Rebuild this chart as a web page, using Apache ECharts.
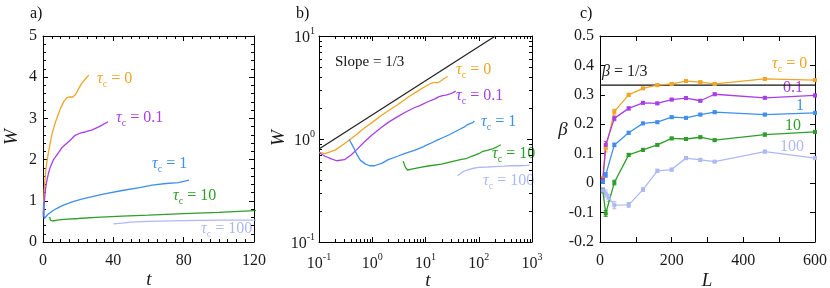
<!DOCTYPE html>
<html>
<head>
<meta charset="utf-8">
<script src="https://cdn.jsdelivr.net/npm/echarts@6/dist/echarts.min.js"></script>
<style>html,body{margin:0;padding:0;background:#fff}#c{width:830px;height:288px}</style>
</head>
<body>
<div id="c"></div>
<script>
// ---------- Data: W(t) curves for each tau_c (panels a and b) ----------
const tTau0 = [0.1, 0.13, 0.2, 0.3, 0.5, 0.7, 1, 1.5, 2, 3, 5, 7, 10, 12, 13.5, 15, 17, 18.5, 20, 22, 24, 26];
const wTau0 = [0.74, 0.72, 0.78, 0.9, 1.1, 1.27, 1.45, 1.7, 1.88, 2.15, 2.6, 2.9, 3.25, 3.42, 3.5, 3.52, 3.52, 3.58, 3.7, 3.85, 3.95, 4.05];

const tTau01 = [0.1, 0.13, 0.17, 0.215, 0.3, 0.4, 0.5, 0.7, 1, 1.5, 2, 3, 4, 6, 8, 11, 15, 18, 21, 24, 28, 32, 37];
const wTau01 = [0.74, 0.68, 0.64, 0.615, 0.63, 0.7, 0.78, 0.93, 1.1, 1.3, 1.45, 1.65, 1.8, 2.0, 2.12, 2.3, 2.45, 2.58, 2.64, 2.67, 2.72, 2.8, 2.92];

const tTau1 = [0.37, 0.45, 0.52, 0.6, 0.75, 0.9, 1.1, 1.5, 2, 3, 4, 6, 9, 12, 17, 22, 28, 35, 45, 55, 62, 70, 77, 83];
const wTau1 = [0.99, 0.82, 0.7, 0.62, 0.57, 0.55, 0.55, 0.58, 0.63, 0.68, 0.72, 0.77, 0.84, 0.9, 0.98, 1.04, 1.1, 1.17, 1.25, 1.32, 1.38, 1.42, 1.44, 1.5];

const tTau10 = [3.8, 4.2, 4.6, 5.5, 8, 12, 20, 30, 45, 60, 80, 100, 120, 150, 180, 220, 260];
const wTau10 = [0.61, 0.53, 0.5, 0.51, 0.53, 0.55, 0.57, 0.6, 0.63, 0.65, 0.69, 0.72, 0.76, 0.78, 0.8, 0.84, 0.88];

const tTau100 = [40, 45, 50, 60, 80, 100, 150, 200, 300, 400, 600, 800, 900];
const wTau100 = [0.44, 0.46, 0.48, 0.5, 0.52, 0.53, 0.535, 0.54, 0.545, 0.55, 0.55, 0.555, 0.56];

const slopeT = [0.1, 205];
const slopeW = [0.8, 10];

// ---------- Data: beta vs L (panel c) ----------
const Lvals = [8, 16, 24, 40, 80, 120, 160, 200, 240, 280, 320, 460, 600];
const beta0   = [0.016, 0.118, null, 0.243, 0.300, 0.322, 0.333, 0.337, 0.347, 0.343, 0.337, 0.354, 0.350];
const beta01  = [0.012, 0.130, null, 0.220, 0.254, 0.273, 0.271, 0.284, 0.289, 0.280, 0.302, 0.290, 0.298];
const beta1   = [0.005, 0.028, null, 0.130, 0.171, 0.203, 0.207, 0.224, 0.222, 0.233, 0.241, 0.233, 0.239];
const beta10  = [-0.026, -0.103, null, 0.002, 0.096, 0.113, 0.130, 0.152, 0.150, 0.156, 0.146, 0.165, 0.174];
const beta100 = [-0.025, -0.035, -0.050, -0.075, -0.074, -0.022, 0.042, 0.046, 0.085, 0.079, 0.073, 0.107, 0.085];
// error bar half-widths (estimated)
const err0   = [0.006, 0.012, null, 0.008, 0.005, 0.004, 0.004, 0.004, 0.004, 0.004, 0.004, 0.004, 0.004];
const err01  = [0.008, 0.012, null, 0.008, 0.005, 0.004, 0.004, 0.004, 0.004, 0.004, 0.004, 0.004, 0.004];
const err1   = [0.006, 0.008, null, 0.006, 0.005, 0.004, 0.004, 0.004, 0.004, 0.004, 0.004, 0.004, 0.004];
const err10  = [0.008, 0.010, null, 0.008, 0.005, 0.005, 0.004, 0.004, 0.004, 0.004, 0.004, 0.005, 0.005];
const err100 = [0.010, 0.012, 0.012, 0.012, 0.008, 0.006, 0.005, 0.005, 0.005, 0.005, 0.004, 0.005, 0.004];
const betaRef = 1/3;

// ---------- Axis ticks / labels ----------
const aXTicks = {min: 0, max: 120, interval: 40};
const aYTicks = {min: 0, max: 5, interval: 1};
const bXRange = {min: 0.1, max: 1000};
const bYRange = {min: 0.1, max: 10};
const cXTicks = {min: 0, max: 600, interval: 200};
const cYTicks = {min: -0.2, max: 0.5, interval: 0.1};

const colors = {c0: '#F0A526', c01: '#A83EE6', c1: '#3F8FEC', c10: '#2E9E2A', c100: '#AEB9F4'};
const serif = '"Liberation Serif", "Times New Roman", "DejaVu Serif", serif';

function zip(a, b) { return a.map((v, i) => [v, b[i]]); }

const chart = echarts.init(document.getElementById('c'), null, {renderer: 'canvas'});

const tickBase = {inside: true, length: 5, lineStyle: {color: '#000', width: 1}};
const lineBase = {show: true, onZero: false, lineStyle: {color: '#000', width: 1}};
const labelBase = {color: '#1a1a1a', fontFamily: serif, fontSize: 16};

function valAxis(gi, pos, rng, opts) {
  const mirror = (pos === 'top' || pos === 'right');
  return Object.assign({
    type: 'value', gridIndex: gi, position: pos,
    min: rng.min, max: rng.max, interval: rng.interval,
    axisLine: lineBase, axisTick: tickBase,
    splitLine: {show: false},
    axisLabel: Object.assign({show: !mirror}, labelBase)
  }, opts || {});
}
function logAxis(gi, pos, rng, opts) {
  const mirror = (pos === 'top' || pos === 'right');
  return Object.assign({
    type: 'log', logBase: 10, gridIndex: gi, position: pos,
    min: rng.min, max: rng.max,
    axisLine: lineBase, axisTick: tickBase,
    splitLine: {show: false},
    axisLabel: Object.assign({}, labelBase, {
      show: !mirror,
      margin: (pos === 'left') ? 4 : 10,
      formatter: v => '{b|10}{s|' + Math.round(Math.log10(v)) + '}',
      rich: {
        b: {fontFamily: serif, fontSize: 16, lineHeight: 20, verticalAlign: 'bottom', color: '#1a1a1a'},
        s: {fontFamily: serif, fontSize: 10, lineHeight: 10, verticalAlign: 'top', color: '#1a1a1a'}
      }
    })
  }, opts || {});
}

const minorA_X = {minorTick: {show: true, splitNumber: 8, length: 3, lineStyle: {color: '#000'}}};
const minorA_Y = {minorTick: {show: true, splitNumber: 5, length: 3, lineStyle: {color: '#000'}}};
const minorC_X = {minorTick: {show: true, splitNumber: 2, length: 5, lineStyle: {color: '#000'}}};

const cFmt = {axisLabel: Object.assign({}, labelBase, {formatter: v => { const r = Math.round(v * 10) / 10; return r === 0 ? '0' : r.toFixed(1); }, margin: 6})};

// log minor tick values (2..9 x 10^k)
const minorLogX = [];
for (let k = -1; k <= 2; k++) for (let m = 2; m <= 9; m++) minorLogX.push(m * Math.pow(10, k));
const minorLogY = [];
for (let k = -1; k <= 0; k++) for (let m = 2; m <= 9; m++) minorLogY.push(m * Math.pow(10, k));

function minorTickSeries(vals, isX) {
  return {
    type: 'custom', xAxisIndex: 2, yAxisIndex: 2, silent: true, clip: false, z: 5,
    data: vals.map(v => isX ? [v, 1] : [1, v]),
    renderItem: (params, api) => {
      const cs = params.coordSys;
      const p = api.coord([api.value(0), api.value(1)]);
      const st = {stroke: '#000', lineWidth: 1};
      if (isX) {
        const x = Math.round(p[0]) + 0.5;
        return {type: 'group', children: [
          {type: 'line', shape: {x1: x, y1: cs.y + cs.height, x2: x, y2: cs.y + cs.height - 3}, style: st},
          {type: 'line', shape: {x1: x, y1: cs.y, x2: x, y2: cs.y + 3}, style: st}
        ]};
      } else {
        const y = Math.round(p[1]) + 0.5;
        return {type: 'group', children: [
          {type: 'line', shape: {x1: cs.x, y1: y, x2: cs.x + 3, y2: y}, style: st},
          {type: 'line', shape: {x1: cs.x + cs.width, y1: y, x2: cs.x + cs.width - 3, y2: y}, style: st}
        ]};
      }
    }
  };
}

function curve(t, w, color, xi, yi) {
  return {type: 'line', xAxisIndex: xi, yAxisIndex: yi, data: zip(t, w), showSymbol: false,
    symbol: 'none', lineStyle: {color: color, width: 1.3}, itemStyle: {color: color}, clip: true, animation: false};
}
function betaLine(b, color) {
  return {type: 'line', xAxisIndex: 4, yAxisIndex: 4, data: zip(Lvals, b), connectNulls: true,
    symbol: 'rect', symbolSize: 4, showSymbol: true,
    lineStyle: {color: color, width: 1.3}, itemStyle: {color: color}, animation: false};
}
function errSeries(b, e, color) {
  const data = [];
  Lvals.forEach((L, i) => { if (b[i] !== null) data.push([L, b[i], e[i]]); });
  return {type: 'custom', xAxisIndex: 4, yAxisIndex: 4, silent: true, z: 3, data: data,
    renderItem: (params, api) => {
      const x = api.value(0), y = api.value(1), d = api.value(2);
      const lo = api.coord([x, y - d]), hi = api.coord([x, y + d]);
      const st = {stroke: color, lineWidth: 1};
      return {type: 'group', children: [
        {type: 'line', shape: {x1: lo[0], y1: lo[1], x2: hi[0], y2: hi[1]}, style: st},
        {type: 'line', shape: {x1: lo[0] - 2, y1: lo[1], x2: lo[0] + 2, y2: lo[1]}, style: st},
        {type: 'line', shape: {x1: hi[0] - 2, y1: hi[1], x2: hi[0] + 2, y2: hi[1]}, style: st}
      ]};
    }};
}

function tauText(val, x, y, color) {
  return {type: 'text', x: x, y: y, silent: true, style: {
    text: '{t|τ}{s|c}{n| = ' + val + '}',
    verticalAlign: 'middle',
    rich: {
      t: {fontFamily: serif, fontStyle: 'italic', fontSize: 16, lineHeight: 18, verticalAlign: 'top', fill: color},
      s: {fontFamily: serif, fontSize: 10, lineHeight: 10, verticalAlign: 'bottom', fill: color},
      n: {fontFamily: serif, fontSize: 16, lineHeight: 18, verticalAlign: 'top', fill: color}
    }
  }};
}
function plainText(txt, x, y, color, size, italic, rot) {
  return {type: 'text', x: x, y: y, rotation: rot || 0, silent: true, style: {
    text: txt, fill: color, fontFamily: serif, fontSize: size, fontStyle: italic ? 'italic' : 'normal',
    align: 'center', verticalAlign: 'middle'
  }};
}
function leftText(txt, x, y, color, size) {
  return {type: 'text', x: x, y: y, silent: true, style: {
    text: txt, fill: color, fontFamily: serif, fontSize: size, align: 'left', verticalAlign: 'middle'
  }};
}

const option = {
  animation: false,
  backgroundColor: '#fff',
  textStyle: {fontFamily: serif},
  grid: [
    {left: 43, top: 36, width: 211, height: 206, show: false},
    {left: 319, top: 36, width: 213, height: 206, show: false},
    {left: 600, top: 36, width: 217, height: 206, show: false}
  ],
  xAxis: [
    valAxis(0, 'bottom', aXTicks, Object.assign({axisLabel: Object.assign({}, labelBase, {margin: 11})}, minorA_X)),
    valAxis(0, 'top', aXTicks, minorA_X),
    logAxis(1, 'bottom', bXRange, {}),
    logAxis(1, 'top', bXRange, {}),
    valAxis(2, 'bottom', cXTicks, Object.assign({axisLabel: Object.assign({}, labelBase, {margin: 11})}, minorC_X)),
    valAxis(2, 'top', cXTicks, minorC_X)
  ],
  yAxis: [
    valAxis(0, 'left', aYTicks, Object.assign({axisLabel: Object.assign({}, labelBase, {margin: 6})}, minorA_Y)),
    valAxis(0, 'right', aYTicks, minorA_Y),
    logAxis(1, 'left', bYRange, {}),
    logAxis(1, 'right', bYRange, {}),
    valAxis(2, 'left', cYTicks, cFmt),
    valAxis(2, 'right', cYTicks, {})
  ],
  series: [
    curve(tTau0, wTau0, colors.c0, 0, 0),
    curve(tTau01, wTau01, colors.c01, 0, 0),
    curve(tTau1, wTau1, colors.c1, 0, 0),
    curve(tTau10, wTau10, colors.c10, 0, 0),
    curve(tTau100, wTau100, colors.c100, 0, 0),

    curve(slopeT, slopeW, '#222', 2, 2),
    curve(tTau0, wTau0, colors.c0, 2, 2),
    curve(tTau01, wTau01, colors.c01, 2, 2),
    curve(tTau1, wTau1, colors.c1, 2, 2),
    curve(tTau10, wTau10, colors.c10, 2, 2),
    curve(tTau100, wTau100, colors.c100, 2, 2),
    minorTickSeries(minorLogX, true),
    minorTickSeries(minorLogY, false),

    {type: 'line', xAxisIndex: 4, yAxisIndex: 4, data: [[cXTicks.min, betaRef], [cXTicks.max, betaRef]],
      symbol: 'none', lineStyle: {color: '#111', width: 1.3}, animation: false, z: 1},
    betaLine(beta0, colors.c0),
    betaLine(beta01, colors.c01),
    betaLine(beta1, colors.c1),
    betaLine(beta10, colors.c10),
    betaLine(beta100, colors.c100),
    errSeries(beta0, err0, colors.c0),
    errSeries(beta01, err01, colors.c01),
    errSeries(beta1, err1, colors.c1),
    errSeries(beta10, err10, colors.c10),
    errSeries(beta100, err100, colors.c100)
  ],
  graphic: [
    leftText('a)', 30, 14, '#111', 16),
    leftText('b)', 296, 14, '#111', 16),
    leftText('c)', 580, 14, '#111', 16),

    plainText('W', 12, 137, '#1a1a1a', 19, true, Math.PI / 2),
    plainText('t', 149, 280, '#1a1a1a', 19, true),
    plainText('W', 279, 138, '#1a1a1a', 19, true, Math.PI / 2),
    plainText('t', 428, 281, '#1a1a1a', 19, true),
    plainText('β', 563, 130, '#1a1a1a', 19, true),
    plainText('L', 707, 281, '#1a1a1a', 19, true),

    tauText('0', 97, 80, colors.c0),
    tauText('0.1', 116, 119, colors.c01),
    tauText('1', 152, 165, colors.c1),
    tauText('10', 173, 197, colors.c10),
    tauText('100', 201, 230, colors.c100),

    leftText('Slope = 1/3', 335, 62, '#111', 15),
    tauText('0', 456, 71, colors.c0),
    tauText('0.1', 456, 97, colors.c01),
    tauText('1', 481, 123, colors.c1),
    tauText('10', 492, 155, colors.c10),
    tauText('100', 483, 182, colors.c100),

    {type: 'text', x: 602, y: 72, silent: true, style: {
      text: '{i|β}{n| = 1/3}', verticalAlign: 'middle',
      rich: {i: {fontFamily: serif, fontStyle: 'italic', fontSize: 16, fill: '#222'}, n: {fontFamily: serif, fontSize: 16, fill: '#222'}}
    }},
    tauText('0', 772, 65, colors.c0),
    leftText('0.1', 783, 88, colors.c01, 16),
    leftText('1', 796, 106, colors.c1, 16),
    leftText('10', 785, 126, colors.c10, 16),
    leftText('100', 780, 147, colors.c100, 16)
  ]
};
chart.setOption(option);
</script>
</body>
</html>
